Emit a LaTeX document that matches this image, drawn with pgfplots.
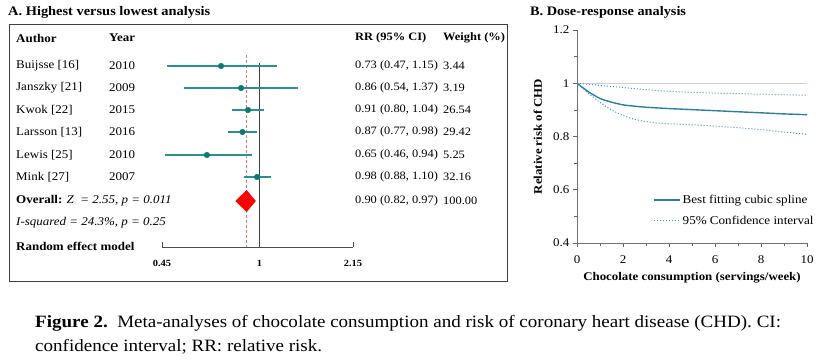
\documentclass[border=0pt]{standalone}
\usepackage{fontspec}
\setmainfont{Liberation Serif}[FakeStretch=1.1]
\usepackage{pgfplots}
\pgfplotsset{compat=1.18}
\definecolor{tealci}{HTML}{2A9090}
\definecolor{tealdot}{HTML}{0A7A72}
\definecolor{spl}{HTML}{2B7FA0}
\definecolor{cicol}{HTML}{3A9AB5}
\definecolor{reddash}{HTML}{F07070}
\newcommand{\tf}{\fontsize{11.8}{13}\selectfont}
\newcommand{\nf}{\fontsize{11.3}{13}\selectfont}
\begin{document}
\begin{tikzpicture}[x=1pt,y=1pt]
\useasboundingbox (0,0) rectangle (820,-360);
% ---------- Panel A ----------
\node[anchor=west, inner sep=0, font=\bfseries\fontsize{13.1}{15}\selectfont] at (8,-12) {A. Highest versus lowest analysis};
\draw[black!75, line width=0.8pt] (9,-24) rectangle (507,-281);
\begin{scope}[every node/.style={anchor=west, inner sep=0, font=\tf}]
\node[font=\tf\bfseries] at (16,-38) {Author};
\node[font=\tf\bfseries] at (109,-38) {Year};
\node[font=\nf\bfseries] at (355,-38) {RR (95\% CI)};
\node[font=\nf\bfseries] at (443,-38) {Weight (\%)};
\node at (16,-66) {Buijsse [16]};   \node at (109,-66) {2010};
\node at (16,-88) {Janszky [21]};   \node at (109,-88) {2009};
\node at (16,-110) {Kwok [22]};     \node at (109,-110) {2015};
\node at (16,-132) {Larsson [13]};  \node at (109,-132) {2016};
\node at (16,-155) {Lewis [25]};    \node at (109,-155) {2010};
\node at (16,-177) {Mink [27]};     \node at (109,-177) {2007};
\node at (16,-201) {\textbf{Overall:} \textit{Z\ \ = 2.55, p = 0.011}};
\node at (16,-223) {\textit{I-squared = 24.3\%, p = 0.25}};
\node[font=\tf\bfseries] at (16,-246) {Random effect model};
\end{scope}
\begin{scope}[every node/.style={anchor=west, inner sep=0, font=\nf}]
\node at (355,-66) {0.73 (0.47, 1.15)};  \node at (443,-66) {3.44};
\node at (355,-88) {0.86 (0.54, 1.37)};  \node at (443,-88) {3.19};
\node at (355,-110) {0.91 (0.80, 1.04)}; \node at (443,-110) {26.54};
\node at (355,-132) {0.87 (0.77, 0.98)}; \node at (443,-132) {29.42};
\node at (355,-155) {0.65 (0.46, 0.94)}; \node at (443,-155) {5.25};
\node at (355,-177) {0.98 (0.88, 1.10)}; \node at (443,-177) {32.16};
\node at (355,-201) {0.90 (0.82, 0.97)}; \node at (443,-201) {100.00};
\end{scope}
\begin{axis}[
  at={(162pt,-247pt)}, anchor=south west,
  scale only axis, width=191pt, height=197pt,
  xmode=log, xmin=0.45, xmax=2.15, ymin=-247, ymax=-50,
  axis x line=bottom, axis y line=none,
  axis line style={black!70, line width=0.6pt, -},
  xtick={0.45,1,2.15}, xticklabels={0.45,1,2.15},
  tick align=inside, major tick length=5pt,
  tick style={black!70, line width=0.6pt},
  xticklabel style={font=\bfseries\fontsize{9.5}{10}\selectfont, yshift=-10pt},
  /pgf/number format/assume math mode=true,
  clip=false]
\addplot[black!75, line width=0.7pt] coordinates {(1,-63) (1,-247)};
\addplot[reddash, line width=0.8pt, dash pattern=on 3pt off 2pt] coordinates {(0.90,-55) (0.90,-247)};
% confidence intervals
\addplot[tealci, line width=1.1pt] coordinates {(0.47,-66) (1.15,-66)};
\addplot[tealci, line width=1.1pt] coordinates {(0.54,-88) (1.37,-88)};
\addplot[tealci, line width=1.1pt] coordinates {(0.80,-110) (1.04,-110)};
\addplot[tealci, line width=1.1pt] coordinates {(0.77,-132) (0.98,-132)};
\addplot[tealci, line width=1.1pt] coordinates {(0.46,-155) (0.94,-155)};
\addplot[tealci, line width=1.1pt] coordinates {(0.88,-177) (1.10,-177)};
% point estimates
\addplot[only marks, mark=*, mark size=2.8pt, color=tealdot] coordinates {
 (0.73,-66) (0.86,-88) (0.91,-110) (0.87,-132) (0.65,-155) (0.98,-177)};
% overall diamond
\addplot[fill=red, draw=none] coordinates {(0.82,-201) (0.90,-190) (0.97,-201) (0.90,-212)} -- cycle;
\end{axis}
% ---------- Panel B ----------
\node[anchor=west, inner sep=0, font=\bfseries\fontsize{13}{15}\selectfont] at (530,-12) {B. Dose-response analysis};
\begin{axis}[
  at={(577pt,-243pt)}, anchor=south west,
  scale only axis, width=230pt, height=213pt,
  xmin=0, xmax=10, ymin=0.4, ymax=1.2,
  axis lines=left,
  axis line style={black!55, line width=0.8pt, -},
  xtick={0,2,...,10}, minor xtick={1,3,...,9},
  ytick={0.4,0.6,0.8,1,1.2}, yticklabels={0.4,0.6,0.8,1,1.2},
  minor ytick={0.5,0.7,0.9,1.1},
  tick align=outside, major tick length=4pt, minor tick length=3pt,
  tick style={black!60, line width=0.7pt},
  ticklabel style={font=\fontsize{11.8}{13}\selectfont},
  xticklabel style={yshift=-5pt},
  /pgf/number format/assume math mode=true,
  xlabel={Chocolate consumption (servings/week)},
  ylabel={Relative risk of CHD},
  xlabel style={font=\bfseries\fontsize{11.7}{13}\selectfont, at={(axis description cs:0.5,-0.165)}, anchor=center},
  ylabel style={font=\bfseries\fontsize{11.7}{13}\selectfont, at={(axis description cs:-0.17,0.5)}, anchor=center},
  legend style={at={(axis description cs:0.33,0.235)}, anchor=north west, draw=none, fill=none,
    font=\fontsize{11.9}{13}\selectfont, row sep=7pt, inner sep=0pt},
  legend cell align=left,
  legend image code/.code={\draw[#1] (0pt,0pt) -- (26pt,0pt);},
  clip=false]
\addplot[black!18, line width=0.9pt, forget plot] coordinates {(0,1) (10,1)};
\addplot[draw=spl, line width=1.4pt, smooth, forget plot] coordinates {
 (0,1) (0.5,0.968) (1,0.943) (1.5,0.929) (2,0.919) (2.5,0.914) (3,0.910) (4,0.905)
 (5,0.901) (6,0.897) (7,0.893) (8,0.889) (9,0.885) (10,0.882)};
\addplot[draw=cicol, line width=1pt, dotted, smooth, forget plot] coordinates {
 (0,1) (1,0.992) (2,0.984) (3,0.976) (4,0.970) (5,0.966) (6,0.963) (7,0.961) (8,0.959) (9,0.957) (10,0.955)};
\addplot[draw=cicol, line width=1pt, dotted, smooth, forget plot] coordinates {
 (0,1) (0.5,0.962) (1,0.928) (1.5,0.900) (2,0.879) (2.5,0.865) (3,0.856) (3.5,0.851) (4,0.848)
 (5,0.844) (6,0.839) (7,0.833) (8,0.826) (9,0.817) (10,0.808)};
\addlegendimage{draw=spl, line width=1.6pt}
\addlegendentry{Best fitting cubic spline}
\addlegendimage{draw=cicol, line width=1pt, dotted}
\addlegendentry{95\% Confidence interval}
\end{axis}
% ---------- Caption ----------
\node[anchor=west, inner sep=0, font=\fontsize{17.3}{19}\selectfont] at (35,-323) {\textbf{Figure 2.}\ \ Meta-analyses of chocolate consumption and risk of coronary heart disease (CHD). CI:};
\node[anchor=west, inner sep=0, font=\fontsize{17.3}{19}\selectfont] at (35,-347) {confidence interval; RR: relative risk.};
\end{tikzpicture}
\end{document}
